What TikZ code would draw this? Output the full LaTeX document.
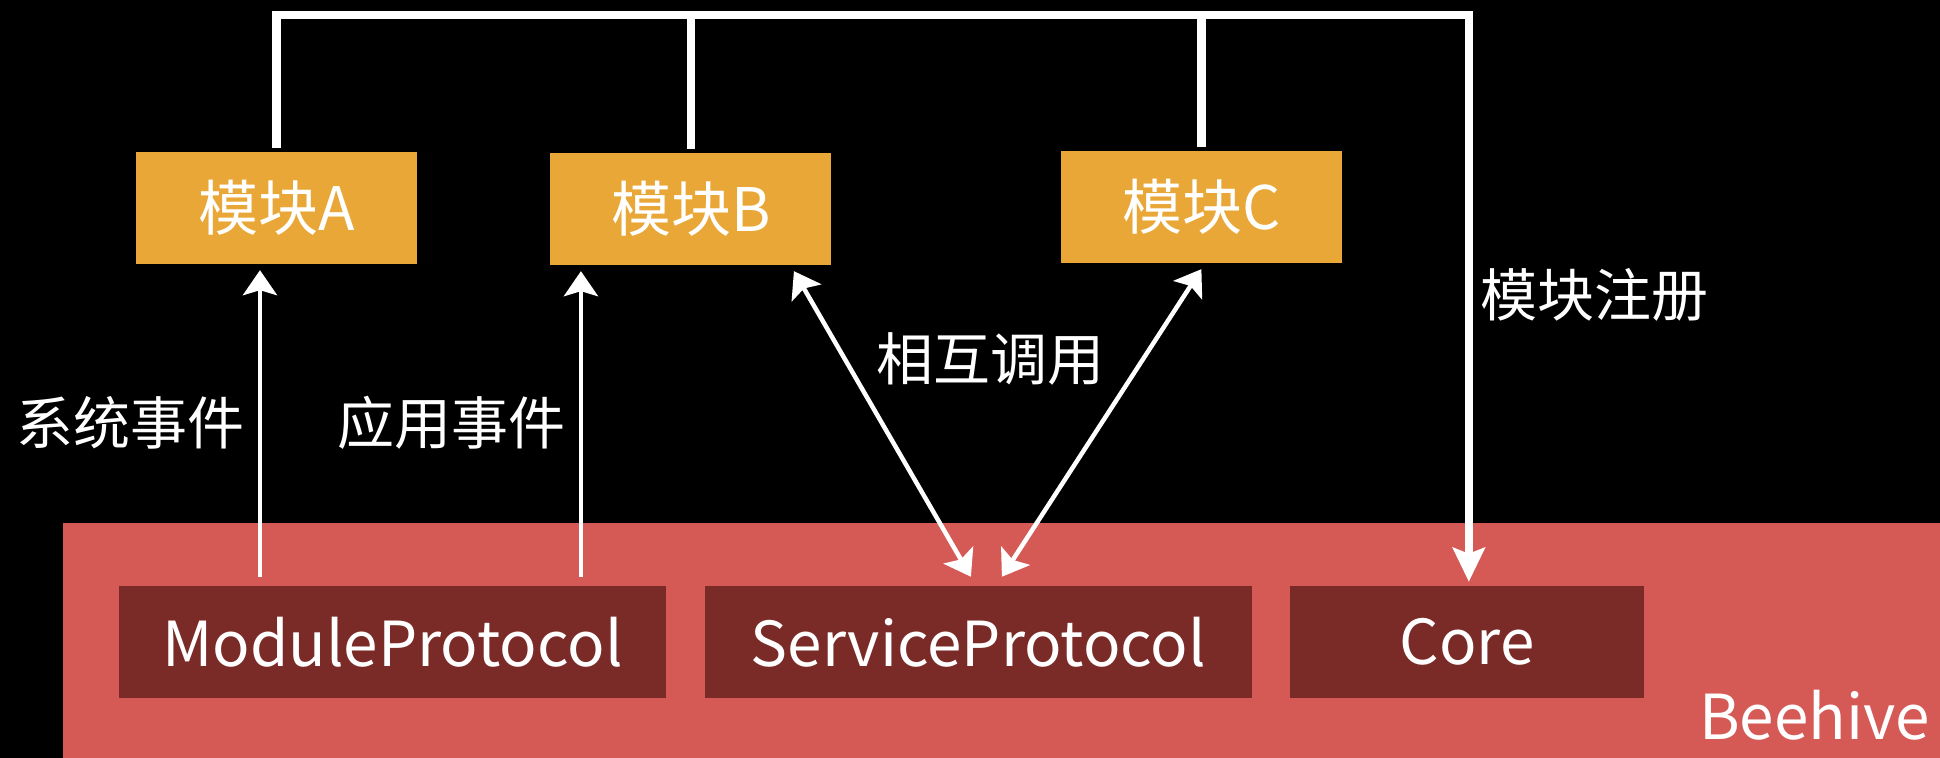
\documentclass[tikz,border=0pt]{standalone}
\usepackage{fontspec}
\setmainfont{Noto Sans CJK SC}
\usetikzlibrary{arrows.meta}
\definecolor{modorange}{HTML}{E8A736}
\definecolor{hivered}{HTML}{D55A56}
\definecolor{partred}{HTML}{7B2B27}
\tikzset{
  module/.style={fill=modorange, text=white, inner sep=0pt, minimum width=281pt, minimum height=112pt, font=\fontsize{60}{66}\selectfont},
  part/.style={fill=partred, text=white, inner sep=0pt, minimum height=112pt, font=\fontsize{62}{68}\selectfont},
  lbl/.style={text=white, inner sep=0pt, font=\fontsize{57}{62}\selectfont},
  evt/.style={draw=white, line width=4.5pt, -{Stealth[length=25pt,width=34pt,inset=5pt]}},
  call/.style={draw=white, line width=4.5pt, {Stealth[length=25pt,width=34pt,inset=5pt]}-{Stealth[length=25pt,width=34pt,inset=5pt]}},
  bus/.style={draw=white, line width=8.5pt}
}
\begin{document}
\begin{tikzpicture}[x=1pt,y=1pt]
\path[fill=black] (0,0) rectangle (1940,758);
\node[fill=hivered, anchor=south west, inner sep=0pt, minimum width=1877pt, minimum height=235pt] (hive) at (63,0) {};
\node[anchor=base east, text=white, inner sep=0pt, font=\fontsize{62}{68}\selectfont] (hivename) at (1930,18) {Beehive};

\node[module] (modA) at (276.5,550) {模块A};
\node[module] (modB) at (691,549) {模块B};
\node[module] (modC) at (1201.5,551) {模块C};

\node[part, minimum width=547pt] (mp) at (392.5,116) {ModuleProtocol};
\node[part, minimum width=547pt] (sp) at (978.5,116) {ServiceProtocol};
\node[part, minimum width=354pt] (core) at (1467,116) {Core};

\node[lbl] (sysevt) at (131,335) {系统事件};
\node[lbl] (appevt) at (452,335) {应用事件};
\node[lbl] (mutual) at (991,399) {相互调用};
\node[lbl] (reg) at (1595,463) {模块注册};

\path[draw,evt] ([xshift=-132.5,yshift=9]mp.north) -- ([xshift=-16.5,yshift=-6]modA.south);
\path[draw,evt] ([xshift=188.5,yshift=9]mp.north) -- ([xshift=-110,yshift=-6]modB.south);
\path[draw,call] ([xshift=103,yshift=-6]modB.south) -- ([xshift=-7.5,yshift=9]sp.north);
\path[draw,call] ([yshift=-6]modC.south) -- ([xshift=23.5,yshift=9]sp.north);

\path[draw,bus,-{Stealth[length=34pt,width=32pt,inset=6pt]}] ([yshift=4]modA.north) -- ++(0,133) coordinate (top) -| ([xshift=2,yshift=4]core.north);
\path[draw,bus] ([yshift=4]modB.north) -- (modB.north |- top);
\path[draw,bus] ([yshift=4]modC.north) -- (modC.north |- top);
\end{tikzpicture}
\end{document}
